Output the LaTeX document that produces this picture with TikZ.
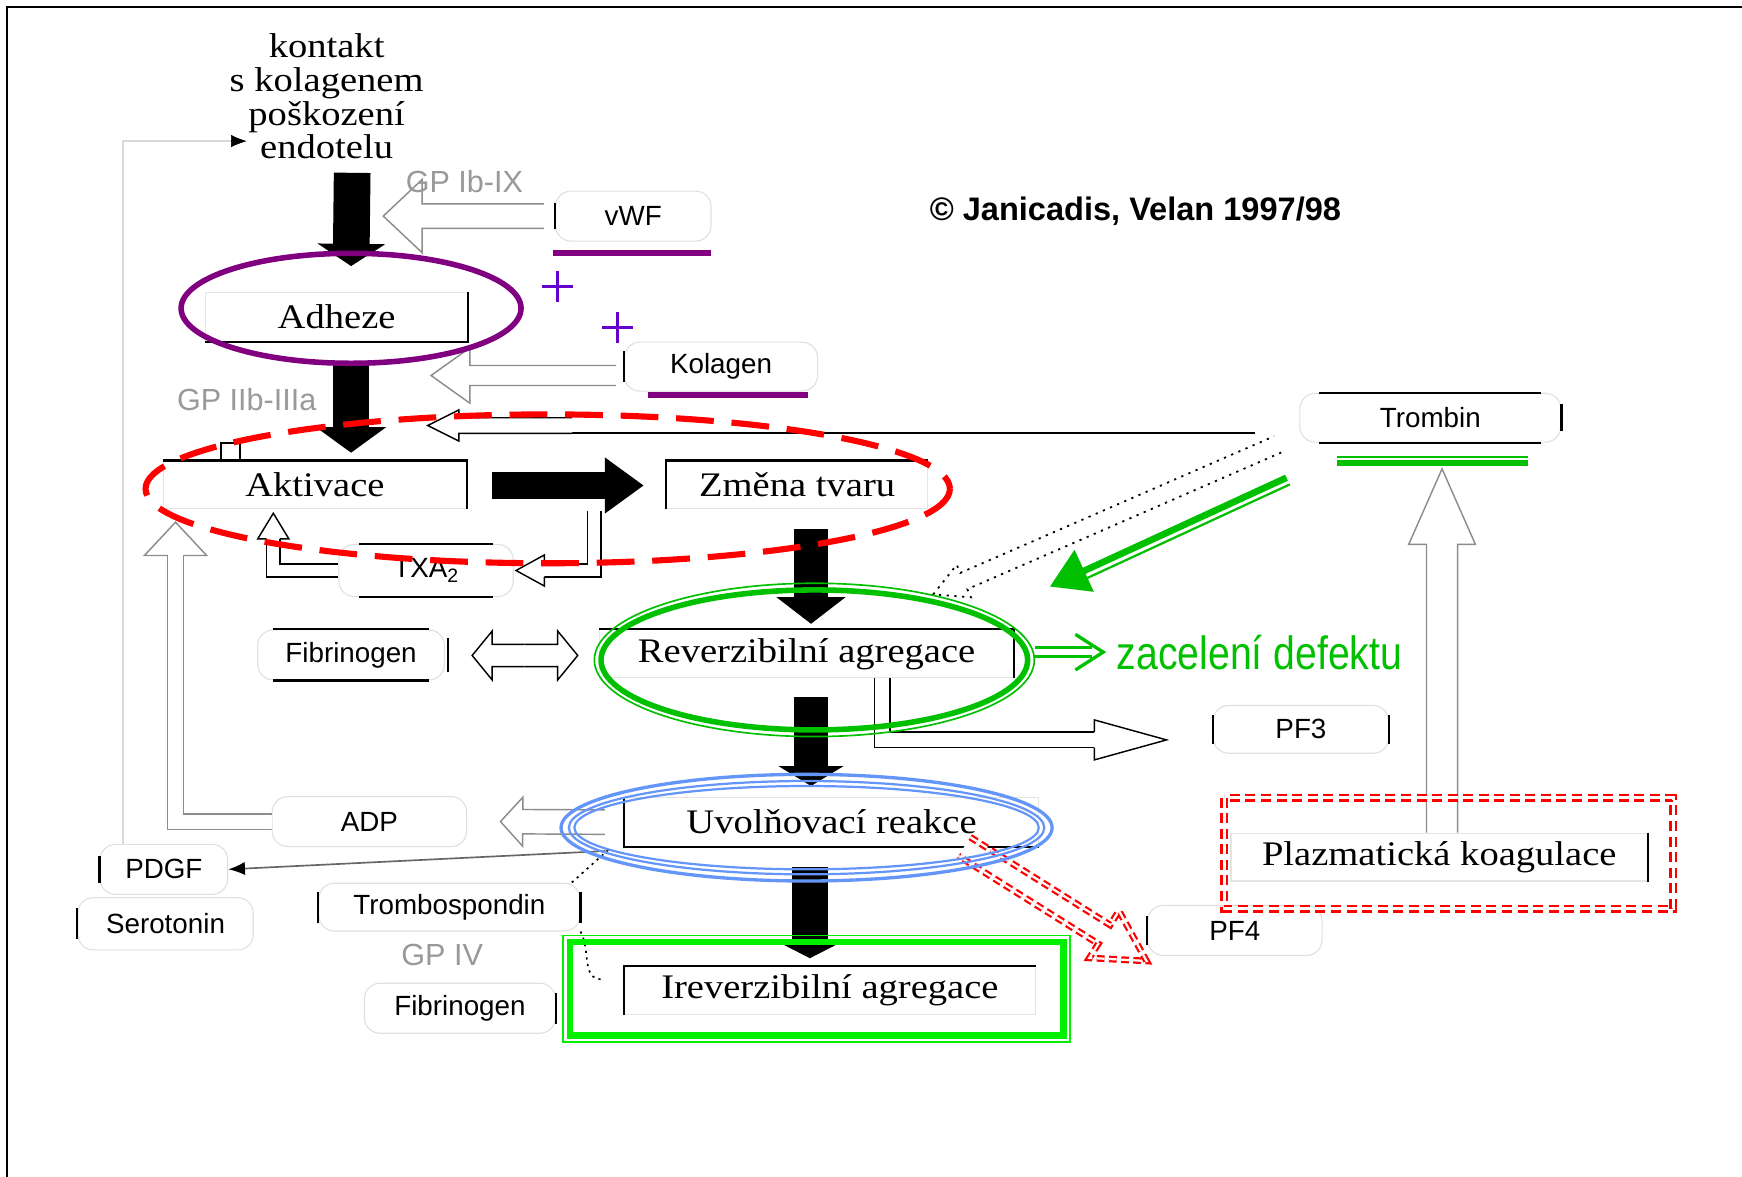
\documentclass[tikz,border=0pt]{standalone}
\usepackage{fontspec}
\usetikzlibrary{arrows.meta,calc,shapes.misc}
\newfontfamily\boxfont{Liberation Serif}[FakeStretch=1.12]
\newfontfamily\molfont{Liberation Sans}
\newfontfamily\greenfont{Liberation Sans}[FakeStretch=0.84]
\newfontfamily\copyfont{Liberation Sans}
\definecolor{mpurple}{RGB}{128,0,128}
\definecolor{mviolet}{RGB}{102,0,204}
\definecolor{mgreen}{RGB}{0,192,0}
\definecolor{lgreen}{RGB}{0,240,0}
\definecolor{mblue}{RGB}{100,150,250}
\definecolor{mred}{RGB}{255,0,0}

\newcommand\hollowarrow[6][]{%
  \path let \p1=(#2), \p2=(#3) in \pgfextra{%
    \pgfmathsetmacro\hwA{atan2((\y2)-(\y1),(\x2)-(\x1))}%
    \pgfmathsetmacro\hwL{veclen((\x2)-(\x1),(\y2)-(\y1))}%
    \xdef\hwAngle{\hwA}\xdef\hwLen{\hwL}\xdef\hwX{\x1}\xdef\hwY{\y1}};
  \pgfmathsetmacro\hwB{\hwLen-#6}%
  \draw[hollow,#1,shift={(\hwX,\hwY)},rotate=\hwAngle]
    (0,-#4) -- (\hwB,-#4) -- (\hwB,-#5) -- (\hwLen,0) -- (\hwB,#5) -- (\hwB,#4) -- (0,#4);}
\newcommand\hollowhead[5][]{%
  \path let \p1=(#2), \p2=(#3) in \pgfextra{%
    \pgfmathsetmacro\hwA{atan2((\y2)-(\y1),(\x2)-(\x1))}%
    \pgfmathsetmacro\hwL{veclen((\x2)-(\x1),(\y2)-(\y1))}%
    \xdef\hwAngle{\hwA}\xdef\hwLen{\hwL}\xdef\hwX{\x1}\xdef\hwY{\y1}};
  \draw[hollow,#1,shift={(\hwX,\hwY)},rotate=\hwAngle]
    (0,-#4) -- (0,-#5) -- (\hwLen,0) -- (0,#5) -- (0,#4);}

\begin{document}
\begin{tikzpicture}[x=1pt,y=-1pt,
  pbox/.style={draw=black!10, line width=1pt, inner sep=0pt, font=\boxfont\fontsize{31}{31}\selectfont},
  mol/.style={rectangle, rounded corners=14pt, draw=black!12, line width=1pt, inner sep=0pt,
              font=\molfont\fontsize{25}{25}\selectfont},
  blackedge/.style={black, line width=2pt, sharp corners},
  gplabel/.style={font=\molfont\fontsize{27.5}{27.5}\selectfont, text=black!40, inner sep=0pt},
  hollow/.style={draw=black!45, line width=1.3pt, fill=white},
  hollowline/.style={draw=black!45, line width=1.3pt, double=white, double distance=#1},
  darkhollow/.style={draw=black},
  redhollow/.style={draw=mred, line width=2pt, double=white, double distance=2pt, dash pattern=on 7pt off 4pt},
  dothollow/.style={draw=black, line width=1.6pt, dash pattern=on 2pt off 5pt},
  blk/.style={line width=#1, black},
  faint/.style={draw=black!15, line width=1.5pt},
  dotline/.style={black, line width=1.5pt, dash pattern=on 2pt off 4pt},
  reddash/.style={draw=mred, line width=2.5pt, double=white, double distance=2.5pt, dash pattern=on 9pt off 5pt},
  plus/.style={mviolet, line width=3pt}]
\useasboundingbox (0,0) rectangle (1568,1059);
\fill[white] (0,0) rectangle (1568,1059);
% frame
\draw[line width=2pt] (1568,6) -- (6,6) -- (6,1059);

% ---------- nodes ----------
\node[align=center, inner sep=0pt, font=\boxfont\fontsize{31}{30.3}\selectfont] (kontakt) at (294,87)
  {kontakt\\s kolagenem\\poškození\\endotelu};
\node[pbox, minimum width=236pt, minimum height=44pt] (adheze) at (303,285) {Adheze};
\node[pbox, minimum width=273pt, minimum height=43pt] (aktivace) at (283.5,436.5) {Aktivace};
\node[pbox, minimum width=235pt, minimum height=43pt] (zmena) at (717.5,436.5) {Změna tvaru};
\node[pbox, minimum width=372pt, minimum height=43pt] (reverz) at (726,588.5) {Reverzibilní agregace};
\node[pbox, minimum width=373pt, minimum height=44pt] (uvol) at (748.5,740) {Uvolňovací reakce};
\node[pbox, minimum width=370pt, minimum height=43pt] (irev) at (747,891.5) {Ireverzibilní agregace};
\node[pbox, minimum width=375pt, minimum height=43pt] (plazma) at (1295.5,771.5) {Plazmatická koagulace};

\node[mol, minimum width=140pt, minimum height=45pt] (vwf) at (570,194.5) {vWF};
\node[mol, minimum width=174pt, minimum height=44pt] (kolagen) at (649,330) {Kolagen};
\node[mol, minimum width=235pt, minimum height=44pt] (trombin) at (1287.5,376) {Trombin};
\node[mol, minimum width=157pt, minimum height=47pt] (txa) at (383.5,513.5) {TXA\textsubscript{2}};
\node[mol, minimum width=168pt, minimum height=45pt] (fib1) at (316,589.5) {Fibrinogen};
\node[mol, minimum width=158pt, minimum height=43pt] (pf3) at (1171,656.5) {PF3};
\node[mol, minimum width=175pt, minimum height=45pt] (adp) at (332.5,739.5) {ADP};
\node[mol, minimum width=115pt, minimum height=45pt] (pdgf) at (147.5,782.5) {PDGF};
\node[mol, minimum width=158pt, minimum height=47pt] (sero) at (149,831.5) {Serotonin};
\node[mol, minimum width=235pt, minimum height=43pt] (tsp) at (404.5,816.5) {Trombospondin};
\node[mol, minimum width=172pt, minimum height=45pt] (fib2) at (414,907.5) {Fibrinogen};
\node[mol, minimum width=157pt, minimum height=45pt] (pf4) at (1111.5,837.5) {PF4};

\node[font=\copyfont\bfseries\fontsize{29.3}{29.3}\selectfont, inner sep=0pt] (copy) at (1022,190)
  {© Janicadis, Velan 1997/98};
\node[anchor=west, text=mgreen, font=\greenfont\fontsize{42}{42}\selectfont, inner sep=0pt] (zac) at (1005,587)
  {zacelení defektu};

% ---------- black edges of boxes ----------
\draw[blackedge] (adheze.north east) -- (adheze.south east) -- (adheze.south west);
\draw[blackedge] (aktivace.north west) -- (aktivace.north east) -- (aktivace.south east);
\draw[blackedge] (zmena.south west) -- (zmena.north west) -- (zmena.north east);
\draw[blackedge] (reverz.north west) -- (reverz.north east) -- (reverz.south east);
\draw[blackedge] (uvol.north west) -- (uvol.south west) -- (uvol.south east);
\draw[blackedge] (irev.south west) -- (irev.north west) -- (irev.north east);
\draw[blackedge] (plazma.north east) -- (plazma.south east);

\draw[blackedge] ([yshift=12pt]vwf.west) -- ([yshift=-12pt]vwf.west);
\draw[blackedge] ([yshift=14pt]kolagen.west) -- ([yshift=-14pt]kolagen.west);
\draw[blackedge] ([xshift=-100pt]trombin.north) -- ([xshift=100pt]trombin.north);
\draw[blackedge] ([xshift=-100pt]trombin.south) -- ([xshift=100pt]trombin.south);
\draw[blackedge] ([yshift=12pt]trombin.east) -- ([yshift=-12pt]trombin.east);
\draw[blackedge] ([xshift=-60pt]txa.north) -- ([xshift=60pt]txa.north);
\draw[blackedge] ([xshift=-60pt]txa.south) -- ([xshift=60pt]txa.south);
\draw[blackedge] ([xshift=-70pt]fib1.north) -- ([xshift=70pt]fib1.north);
\draw[blackedge] ([xshift=-70pt]fib1.south) -- ([xshift=70pt]fib1.south);
\draw[blackedge] ([shift={(3,-15)}]fib1.east) -- ([shift={(3,15)}]fib1.east);
\draw[blackedge] ([yshift=13pt]pf3.west) -- ([yshift=-13pt]pf3.west);
\draw[blackedge] ([yshift=13pt]pf3.east) -- ([yshift=-13pt]pf3.east);
\draw[blackedge] ([yshift=12pt]pdgf.west) -- ([yshift=-12pt]pdgf.west);
\draw[blackedge] ([yshift=14pt]sero.west) -- ([yshift=-14pt]sero.west);
\draw[blackedge] ([yshift=14pt]tsp.west) -- ([yshift=-14pt]tsp.west);
\draw[blackedge] ([yshift=14pt]tsp.east) -- ([yshift=-14pt]tsp.east);
\draw[blackedge] ([yshift=14pt]fib2.east) -- ([yshift=-14pt]fib2.east);
\draw[blackedge] ([yshift=13pt]pf4.west) -- ([yshift=-13pt]pf4.west);
\draw[blackedge, line width=1.5pt] (199,415) |- (216,399) -- (216,415);

% ---------- coordinates ----------
\coordinate (kin) at (222,127);
\coordinate (h1t) at (345,194.5);
\coordinate (h2t) at (388,338);
\coordinate (h3s) at (515,383);
\coordinate (h3t) at (385,383);
\coordinate (tl1) at (1130,390);
\coordinate (tl2) at (515,390);
\coordinate (h4b) at (246,485);
\coordinate (h4t) at (246,462);
\coordinate (h5s) at (535,460);
\coordinate (h5b) at (490,513.5);
\coordinate (h6b) at (158,500);
\coordinate (h6t) at (158,470);
\coordinate (h7m) at (472,590);
\coordinate (h7l) at (425,590);
\coordinate (h7r) at (520,590);
\coordinate (h8b) at (985,666);
\coordinate (h8t) at (1050,666);
\coordinate (h10s) at (868,762);
\coordinate (h10t) at (1032,865);
\coordinate (h11t) at (1298,422);
\coordinate (h12s) at (1150,400);
\coordinate (h12t) at (840,535);
\coordinate (g1s) at (1158,430);
\coordinate (g1e) at (945,528);
\coordinate (pds) at (545,766);

% ---------- thin connectors ----------
\draw[faint] ([xshift=-37pt]pdgf.north) |- ([xshift=-12pt]kin);
\draw[black, -{Latex[length=14pt,width=11pt]}] ([xshift=-14pt]kin) -- (kin);
\draw[black!60, line width=1.5pt, -{Latex[black,length=15pt,width=12pt]}] (pds) -- (pdgf.east);
\draw[blackedge] (tl1) -- (tl2);
\draw[dotline] ([shift={(-14,25)}]uvol.west) -- ([shift={(-8,0)}]tsp.north east);
\draw[dotline] (tsp.south east) to[out=-60,in=180] ([shift={(-20,-10)}]irev.west);

% ---------- hollow arrows ----------
\hollowarrow{[xshift=-10pt]vwf.west}{h1t}{11}{33}{35}
\hollowarrow{[shift={(-7,8)}]kolagen.west}{h2t}{9}{25}{35}
\hollowarrow[darkhollow]{h3s}{h3t}{7}{14}{28}
\draw[hollowline=10.7pt, draw=black] (txa.west) -| (h4b);
\hollowhead[darkhollow]{h4b}{h4t}{6}{14}
\draw[hollowline=10.7pt, draw=black] (h5s) |- (h5b);
\hollowhead[darkhollow]{h5b}{[xshift=2pt]txa.east}{6}{14}
\draw[hollowline=12.7pt] (adp.west) -| (h6b);
\hollowhead{h6b}{h6t}{7}{28}
\hollowarrow[darkhollow]{h7m}{h7l}{10}{22}{18}
\hollowarrow[darkhollow]{h7m}{h7r}{10}{22}{18}
\draw[hollowline=12.7pt, draw=black] ([xshift=68pt]reverz.south) |- (h8b);
\hollowhead[darkhollow]{h8b}{h8t}{7}{18}
\hollowarrow{[xshift=-17pt]uvol.west}{[xshift=30pt]adp.east}{11}{22}{20}
\hollowarrow{[xshift=2.5pt]plazma.north}{h11t}{14}{30}{68}
\hollowarrow[dothollow]{h12s}{h12t}{8}{16}{30}
\hollowarrow[redhollow]{h10s}{h10t}{10}{25}{45}

% ---------- receptor labels (above the hollow arrows) ----------
\node[gplabel] (gp1) at (418,163) {GP Ib-IX};
\node[gplabel] (gp2) at (222,360) {GP IIb-IIIa};
\node[gplabel] (gp4) at (398,860) {GP IV};

% ---------- block arrows ----------
\draw[blk=33pt, -{Triangle[length=20pt,width=60pt]}] ([shift={(23,12)}]kontakt.south) -- ([shift={(13,-23)}]adheze.north);
\draw[blk=32pt, -{Triangle[length=23pt,width=62pt]}] ([shift={(13,18)}]adheze.south) -- ([shift={(32.5,-7)}]aktivace.north);
\draw[blk=25pt, -{Triangle[length=35pt,width=48pt]}] ([shift={(22,0.5)}]aktivace.east) -- ([shift={(-20,0.5)}]zmena.west);
\draw[blk=31pt, -{Triangle[length=24pt,width=61pt]}] ([shift={(12.5,18)}]zmena.south) -- ([shift={(4,-5)}]reverz.north);
\draw[blk=31pt, -{Triangle[length=18pt,width=58pt]}] ([shift={(4,17)}]reverz.south) -- ([shift={(-18.5,-10)}]uvol.north);
\draw[blk=33pt, -{Triangle[length=15pt,width=58pt]}] ([shift={(-19.5,18)}]uvol.south) -- ([shift={(-18,-7)}]irev.north);

% ---------- coloured highlights ----------
\draw[mpurple, line width=5pt] ([xshift=-72pt,yshift=-10pt]vwf.south) -- ([xshift=70pt,yshift=-10pt]vwf.south);
\draw[mpurple, line width=5pt] ([xshift=-66pt,yshift=-3pt]kolagen.south) -- ([xshift=78pt,yshift=-3pt]kolagen.south);
\draw[plus] (502,244) -- (502,272) (488,258) -- (516,258);
\draw[plus] (556,281) -- (556,309) (542,295) -- (570,295);
\draw[mgreen, line width=1.5pt] ([shift={(-84.5,13)}]trombin.south) -- ([shift={(87.5,13)}]trombin.south);
\draw[mgreen, line width=5pt] ([shift={(-84.5,18.5)}]trombin.south) -- ([shift={(87.5,18.5)}]trombin.south);
\draw[mgreen, line width=6pt, -{Triangle[length=34pt,width=40pt]}] (g1s) -- (g1e);
\draw[mgreen, line width=2pt] ([shift={(3,6)}]g1s) -- (978.8,520.2);

\draw[mpurple, line width=5pt] (316,277.5) ellipse [x radius=153, y radius=49.5];
\draw[mred, line width=5.5pt, dash pattern=on 34pt off 16pt] (493,440) ellipse [x radius=362, y radius=67];
\draw[mgreen, line width=5pt] (733,594) ellipse [x radius=192, y radius=63];
\draw[mgreen, line width=1.5pt] (733,594) ellipse [x radius=198, y radius=69];
\draw[mgreen, line width=2.5pt, double=white, double distance=6pt] (932,587) -- ([xshift=-22pt]zac.west);
\draw[mgreen, line width=3pt] ([shift={(-37,-16)}]zac.west) -- ([xshift=-12pt]zac.west) -- ([shift={(-37,16)}]zac.west);
\draw[mblue, line width=3pt] (726,745) ellipse [x radius=221, y radius=48];
\draw[mblue, line width=2pt] (726,745) ellipse [x radius=214, y radius=42];
\draw[mblue, line width=2pt] (726,745) ellipse [x radius=209, y radius=37.5];
\draw[lgreen, line width=1.5pt] (507,842) rectangle (963,938);
\draw[lgreen, line width=6pt] (513,848) rectangle (957,932);
\draw[reddash] (1102,718) rectangle (1506,818);
\end{tikzpicture}
\end{document}
